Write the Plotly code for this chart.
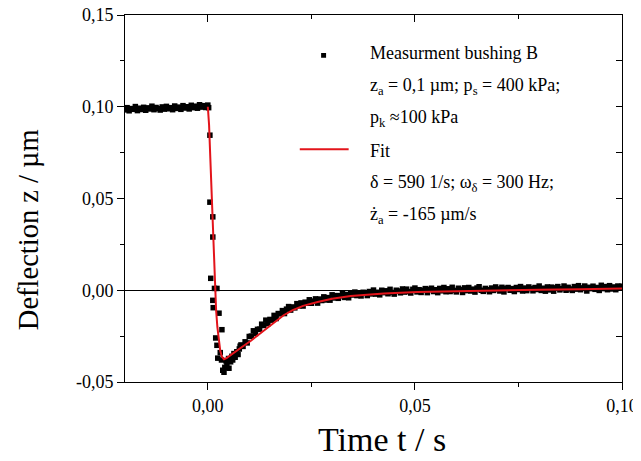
import plotly.graph_objects as go

# ---------------- data ----------------
t_pre = [-0.0200, -0.0195, -0.0190, -0.0185, -0.0180, -0.0175, -0.0170, -0.0165, -0.0160, -0.0155,
         -0.0150, -0.0145, -0.0140, -0.0135, -0.0130, -0.0125, -0.0120, -0.0115, -0.0110, -0.0105,
         -0.0100, -0.0095, -0.0090, -0.0085, -0.0080, -0.0075, -0.0070, -0.0065, -0.0060, -0.0055,
         -0.0050, -0.0045, -0.0040, -0.0035, -0.0030, -0.0025, -0.0020, -0.0015, -0.0010, -0.0005,
         0.0000]
z_pre = [0.0983, 0.0995, 0.0978, 0.0990, 0.0986, 0.1001, 0.0979, 0.0992, 0.0985, 0.0997,
         0.0981, 0.0994, 0.0988, 0.1003, 0.0984, 0.0996, 0.0990, 0.0982, 0.0999, 0.0987,
         0.1002, 0.0989, 0.0995, 0.0984, 0.1004, 0.0991, 0.0998, 0.0986, 0.1006, 0.0993,
         0.1000, 0.0988, 0.1008, 0.0995, 0.1003, 0.0992, 0.1011, 0.0998, 0.1006, 0.0996,
         0.1009]

t_step = [0.0002, 0.0005, 0.0005, 0.0012, 0.0012, 0.0007, 0.0016, 0.0022, 0.0012, 0.0013,
          0.0027, 0.0034, 0.0019, 0.0022, 0.0030, 0.0024, 0.0033, 0.0036, 0.0039, 0.0041,
          0.0046, 0.0051, 0.0044, 0.0050, 0.0055, 0.0058, 0.0060, 0.0063, 0.0066, 0.0070,
          0.0073, 0.0076, 0.0078]
z_step = [0.0995, 0.0845, 0.0480, 0.0400, 0.0290, 0.0065, 0.0010, 0.0010, -0.0055, -0.0095,
          -0.0125, -0.0215, -0.0260, -0.0300, -0.0340, -0.0370, -0.0380, -0.0436, -0.0447, -0.0420,
          -0.0400, -0.0425, -0.0385, -0.0372, -0.0390, -0.0360, -0.0380, -0.0345, -0.0365, -0.0335,
          -0.0350, -0.0320, -0.0305]

t_tail = [0.0080, 0.0085, 0.0090, 0.0095, 0.0100, 0.0105, 0.0110, 0.0115, 0.0120, 0.0125,
          0.0130, 0.0135, 0.0140, 0.0145, 0.0150, 0.0155, 0.0160, 0.0165, 0.0170, 0.0175,
          0.0180, 0.0185, 0.0190, 0.0195, 0.0200, 0.0205, 0.0210, 0.0215, 0.0220, 0.0225,
          0.0230, 0.0235, 0.0240, 0.0245, 0.0250, 0.0255, 0.0260, 0.0265, 0.0270, 0.0275,
          0.0280, 0.0285, 0.0290, 0.0295, 0.0300, 0.0305, 0.0310, 0.0315, 0.0320, 0.0325,
          0.0330, 0.0335, 0.0340, 0.0345, 0.0350, 0.0355, 0.0360, 0.0365, 0.0370, 0.0375,
          0.0380, 0.0385, 0.0390, 0.0395, 0.0400, 0.0405, 0.0410, 0.0415, 0.0420, 0.0425,
          0.0430, 0.0435, 0.0440, 0.0445, 0.0450, 0.0455, 0.0460, 0.0465, 0.0470, 0.0475,
          0.0480, 0.0485, 0.0490, 0.0495, 0.0500, 0.0505, 0.0510, 0.0515, 0.0520, 0.0525,
          0.0530, 0.0535, 0.0540, 0.0545, 0.0550, 0.0555, 0.0560, 0.0565, 0.0570, 0.0575,
          0.0580, 0.0585, 0.0590, 0.0595, 0.0600, 0.0605, 0.0610, 0.0615, 0.0620, 0.0625,
          0.0630, 0.0635, 0.0640, 0.0645, 0.0650, 0.0655, 0.0660, 0.0665, 0.0670, 0.0675,
          0.0680, 0.0685, 0.0690, 0.0695, 0.0700, 0.0705, 0.0710, 0.0715, 0.0720, 0.0725,
          0.0730, 0.0735, 0.0740, 0.0745, 0.0750, 0.0755, 0.0760, 0.0765, 0.0770, 0.0775,
          0.0780, 0.0785, 0.0790, 0.0795, 0.0800, 0.0805, 0.0810, 0.0815, 0.0820, 0.0825,
          0.0830, 0.0835, 0.0840, 0.0845, 0.0850, 0.0855, 0.0860, 0.0865, 0.0870, 0.0875,
          0.0880, 0.0885, 0.0890, 0.0895, 0.0900, 0.0905, 0.0910, 0.0915, 0.0920, 0.0925,
          0.0930, 0.0935, 0.0940, 0.0945, 0.0950, 0.0955, 0.0960, 0.0965, 0.0970, 0.0975,
          0.0980, 0.0985, 0.0990, 0.0995, 0.1000]
z_tail = [-0.0298, -0.0306, -0.0281, -0.0287, -0.0252, -0.0250, -0.0221, -0.0236, -0.0213, -0.0212,
          -0.0185, -0.0192, -0.0163, -0.0182, -0.0159, -0.0163, -0.0137, -0.0154, -0.0127, -0.0128,
          -0.0111, -0.0127, -0.0103, -0.0089, -0.0108, -0.0091, -0.0096, -0.0073, -0.0085, -0.0069,
          -0.0086, -0.0065, -0.0071, -0.0052, -0.0071, -0.0059, -0.0047, -0.0070, -0.0048, -0.0056,
          -0.0036, -0.0053, -0.0040, -0.0054, -0.0025, -0.0042, -0.0029, -0.0044, -0.0030, -0.0019,
          -0.0039, -0.0023, -0.0041, -0.0016, -0.0026, -0.0010, -0.0029, -0.0017, -0.0031, -0.0011,
          -0.0015, -0.0029, -0.0007, -0.0020, 0.0001, -0.0021, -0.0011, -0.0025, 0.0000, -0.0013,
          -0.0003, -0.0019, 0.0005, -0.0012, -0.0021, 0.0000, -0.0004, -0.0014, 0.0007, -0.0010,
          0.0006, -0.0007, -0.0015, 0.0005, 0.0012, -0.0009, 0.0003, -0.0012, 0.0000, 0.0009,
          -0.0013, 0.0005, 0.0011, -0.0007, 0.0003, -0.0013, 0.0010, -0.0003, 0.0015, -0.0008,
          0.0008, -0.0007, 0.0016, -0.0001, -0.0009, 0.0011, 0.0004, -0.0012, 0.0013, -0.0002,
          0.0015, -0.0004, 0.0006, -0.0010, 0.0012, 0.0019, 0.0000, -0.0006, 0.0010, 0.0003,
          -0.0008, 0.0012, -0.0001, 0.0018, 0.0007, -0.0004, 0.0016, -0.0009, 0.0010, 0.0015,
          0.0000, 0.0009, -0.0007, 0.0015, 0.0004, 0.0020, -0.0004, 0.0012, -0.0002, 0.0018,
          0.0009, -0.0003, 0.0015, 0.0004, 0.0023, -0.0001, 0.0011, -0.0005, 0.0018, 0.0002,
          0.0017, -0.0005, 0.0013, 0.0020, 0.0002, 0.0009, 0.0023, 0.0000, 0.0016, 0.0007,
          -0.0001, 0.0020, 0.0006, 0.0025, 0.0003, 0.0013, 0.0023, -0.0004, 0.0016, 0.0009,
          0.0022, 0.0005, 0.0015, -0.0001, 0.0027, 0.0009, 0.0020, 0.0003, 0.0025, 0.0007,
          0.0018, 0.0003, 0.0023, 0.0011, 0.0022]

t_fit = [0.0000, 0.0003, 0.0006, 0.0009, 0.0012, 0.0014, 0.0017, 0.0020, 0.0023, 0.0026,
         0.0030, 0.0034, 0.0039, 0.0045, 0.0055, 0.0070, 0.0085, 0.0104, 0.0125, 0.0145,
         0.0165, 0.0183, 0.0205, 0.0230, 0.0265, 0.0300, 0.0345, 0.0390, 0.0425, 0.0506,
         0.0600, 0.0700, 0.0800, 0.0900, 0.1000]
z_fit = [0.1000, 0.0900, 0.0720, 0.0540, 0.0320, 0.0180, 0.0000, -0.0110, -0.0200, -0.0270,
         -0.0330, -0.0362, -0.0376, -0.0370, -0.0355, -0.0330, -0.0305, -0.0275, -0.0237, -0.0200,
         -0.0166, -0.0136, -0.0108, -0.0085, -0.0064, -0.0046, -0.0031, -0.0022, -0.0018, -0.0009,
         -0.0004, 0.0000, 0.0003, 0.0006, 0.0010]

x_tick_vals = [0.0, 0.05, 0.10]
x_tick_text = ["0,00", "0,05", "0,10"]
x_minor_vals = [0.025, 0.075]
y_tick_vals = [-0.05, 0.0, 0.05, 0.10, 0.15]
y_tick_text = ["-0,05", "0,00", "0,05", "0,10", "0,15"]
y_minor_vals = [-0.025, 0.025, 0.075, 0.125]

x_title = "Time t / s"
y_title = "Deflection z / µm"

legend_lines = [
    "Measurment bushing B",
    "z<sub>a</sub> = 0,1 µm; p<sub>s</sub> = 400 kPa;",
    "p<sub>k</sub> ≈100 kPa",
    "Fit",
    "δ = 590 1/s; ω<sub>δ</sub> = 300 Hz;",
    "ż<sub>a</sub> = -165 µm/s",
]
legend_y = [0.1292, 0.1112, 0.0937, 0.0757, 0.0583, 0.0409]

FONT = "Liberation Serif"
RED = "#e3141b"

t_meas = t_pre + t_step + t_tail
z_meas = z_pre + z_step + z_tail

fig = go.Figure()
fig.add_trace(go.Scatter(x=t_meas, y=z_meas, mode="markers",
                         marker=dict(symbol="square", size=5.5, color="black", line=dict(width=0)),
                         showlegend=False, hoverinfo="skip"))
fig.add_trace(go.Scatter(x=t_fit, y=z_fit, mode="lines", line=dict(color=RED, width=2),
                         showlegend=False, hoverinfo="skip"))
# mirror axes (top / right) with inward ticks
fig.add_trace(go.Scatter(x=[None], y=[None], xaxis="x2", yaxis="y2", showlegend=False,
                         hoverinfo="skip"))

axis_common = dict(showgrid=False, showline=True, linecolor="black", linewidth=1,
                   tickcolor="black", tickwidth=1, automargin=False)

# the page body adds an 8px offset, so the figure is sized to sit at the reference position
fig.update_layout(
    template="none",
    width=633, height=453,
    margin=dict(l=117, r=19, t=7, b=79, autoexpand=False),
    paper_bgcolor="white", plot_bgcolor="white",
    font=dict(family=FONT, color="black"),
    showlegend=False,
    xaxis=dict(range=[-0.02, 0.10], tickmode="array", tickvals=x_tick_vals, ticktext=x_tick_text,
               ticks="outside", ticklen=7, zeroline=False, ticklabeloverflow="allow",
               tickfont=dict(family=FONT, size=18, color="black"),
               minor=dict(tickvals=x_minor_vals, ticks="outside", ticklen=4, tickcolor="black"),
               **axis_common),
    yaxis=dict(range=[-0.05, 0.15], tickmode="array", tickvals=y_tick_vals, ticktext=y_tick_text,
               ticks="outside", ticklen=7, zeroline=True, zerolinecolor="black", zerolinewidth=1,
               ticklabeloverflow="allow",
               tickfont=dict(family=FONT, size=18, color="black"),
               minor=dict(tickvals=y_minor_vals, ticks="outside", ticklen=4, tickcolor="black"),
               **axis_common),
    xaxis2=dict(range=[-0.02, 0.10], overlaying="x", side="top", anchor="y2",
                tickmode="array", tickvals=x_tick_vals, ticks="inside", ticklen=7,
                showticklabels=False, zeroline=False,
                minor=dict(tickvals=x_minor_vals, ticks="inside", ticklen=4, tickcolor="black"),
                **axis_common),
    yaxis2=dict(range=[-0.05, 0.15], overlaying="y", side="right", anchor="x2",
                tickmode="array", tickvals=y_tick_vals, ticks="inside", ticklen=6,
                showticklabels=False, zeroline=False,
                minor=dict(tickvals=y_minor_vals, ticks="inside", ticklen=6, tickcolor="black"),
                **axis_common),
)

# axis titles (placed as in the reference, off-centre)
fig.add_annotation(x=0.518, y=-0.158, xref="paper", yref="paper", text=x_title, showarrow=False,
                   xanchor="center", yanchor="middle",
                   font=dict(family=FONT, size=34, color="black"))
fig.add_annotation(x=-0.195, y=0.414, xref="paper", yref="paper", text=y_title, showarrow=False,
                   textangle=-90, xanchor="center", yanchor="middle",
                   font=dict(family=FONT, size=28.5, color="black"))

for txt, yy in zip(legend_lines, legend_y):
    fig.add_annotation(x=0.0386, y=yy, xref="x", yref="y", text=txt, showarrow=False,
                       xanchor="left", yanchor="middle",
                       font=dict(family=FONT, size=18, color="black"))

# legend keys
fig.add_shape(type="rect", xref="x", yref="y", x0=0.02735, x1=0.02855, y0=0.1267, y1=0.1293,
              fillcolor="black", line=dict(width=0))
fig.add_shape(type="line", xref="x", yref="y", x0=0.0222, x1=0.0340, y0=0.0768, y1=0.0768,
              line=dict(color=RED, width=2))

fig.write_html("out.html")
